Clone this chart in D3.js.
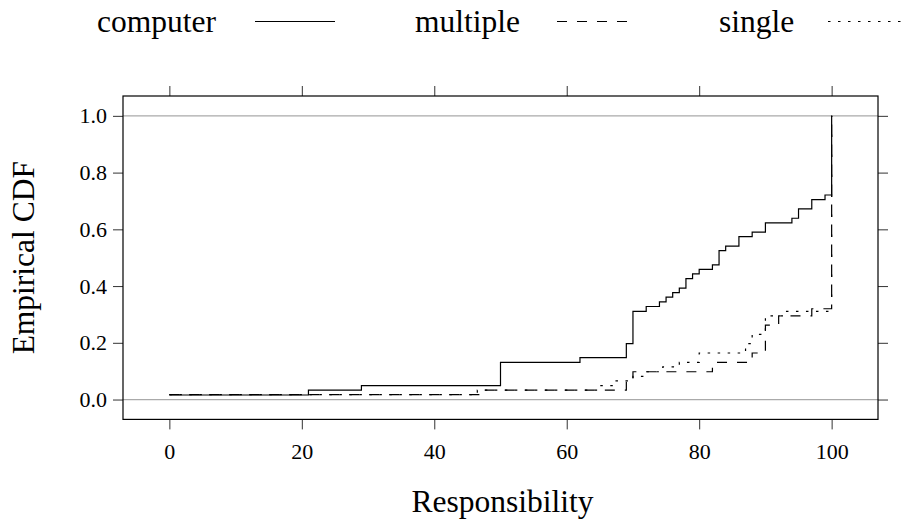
<!DOCTYPE html>
<html>
<head>
<meta charset="utf-8">
<script src="https://cdnjs.cloudflare.com/ajax/libs/d3/7.8.5/d3.min.js"></script>
<style>
html, body { margin: 0; padding: 0; background: #fff; }
svg { display: block; }
text { font-family: "Liberation Serif", "DejaVu Serif", serif; fill: #000; }
</style>
</head>
<body>
<svg id="chart" width="904" height="531"></svg>
<script>
// ---- data (step locations and ECDF levels) ----
const seriesNames = ["computer", "multiple", "single"];

const computerX = [0, 21, 29, 50, 62, 69, 70, 72, 74, 75, 76, 77, 78, 79, 80, 82, 83, 84, 86, 88, 90, 94, 95, 97, 99, 100];
const computerY = [0.016, 0.033, 0.049, 0.131, 0.148, 0.197, 0.311, 0.328, 0.344, 0.361, 0.377, 0.393, 0.426, 0.443, 0.459, 0.475, 0.525, 0.541, 0.574, 0.590, 0.623, 0.639, 0.672, 0.705, 0.721, 1.0];

const multipleX = [0, 47, 69, 70, 82, 88, 90, 92, 97, 100];
const multipleY = [0.017, 0.033, 0.066, 0.098, 0.131, 0.164, 0.262, 0.295, 0.320, 1.0];

const singleX = [0, 46.5, 64.5, 67, 70, 72, 74.5, 77, 80, 87, 88, 90, 93, 100];
const singleY = [0.017, 0.033, 0.049, 0.066, 0.082, 0.098, 0.115, 0.131, 0.164, 0.197, 0.230, 0.295, 0.311, 1.0];

const xTicks = [0, 20, 40, 60, 80, 100];
const yTicks = [0, 0.2, 0.4, 0.6, 0.8, 1.0];
const xLabel = "Responsibility";
const yLabel = "Empirical CDF";

// ---- layout ----
const svg = d3.select("#chart");
const panel = { left: 123, right: 878, top: 96, bottom: 419.4 };

const x = d3.scaleLinear().domain([-7, 107]).range([panel.left, panel.right]);
const y = d3.scaleLinear().domain([-0.07, 1.07]).range([panel.bottom, panel.top]);

const series = [
  { name: "computer", xs: computerX, ys: computerY, dash: null },
  { name: "multiple", xs: multipleX, ys: multipleY, dash: "10,10" },
  { name: "single", xs: singleX, ys: singleY, dash: "2.5,7.5" }
];

// reference lines at 0 and 1
svg.append("g").selectAll("line").data([0, 1]).join("line")
  .attr("x1", panel.left).attr("x2", panel.right)
  .attr("y1", d => y(d)).attr("y2", d => y(d))
  .attr("stroke", "#aaaaaa").attr("stroke-width", 1.3);

// step lines
const line = d3.line()
  .x(d => x(d[0])).y(d => y(d[1]))
  .curve(d3.curveStepAfter);

svg.append("g").selectAll("path").data(series).join("path")
  .attr("d", s => line(s.xs.map((v, i) => [v, s.ys[i]])))
  .attr("fill", "none")
  .attr("stroke", "#000")
  .attr("stroke-width", 1.2)
  .attr("stroke-dasharray", s => s.dash);

// axes with ticks on all four sides (lattice style)
const tickLen = 10;
const fmtY = d3.format(".1f");

svg.append("g").attr("transform", `translate(0,${panel.bottom})`)
  .call(d3.axisBottom(x).tickValues(xTicks).tickSize(tickLen).tickPadding(14).tickFormat(d3.format("d")))
  .call(g => g.select(".domain").remove());
svg.append("g").attr("transform", `translate(0,${panel.top})`)
  .call(d3.axisTop(x).tickValues(xTicks).tickSize(tickLen).tickFormat(""))
  .call(g => g.select(".domain").remove());
svg.append("g").attr("transform", `translate(${panel.left},0)`)
  .call(d3.axisLeft(y).tickValues(yTicks).tickSize(tickLen).tickPadding(6).tickFormat(fmtY))
  .call(g => g.select(".domain").remove());
svg.append("g").attr("transform", `translate(${panel.right},0)`)
  .call(d3.axisRight(y).tickValues(yTicks).tickSize(tickLen).tickFormat(""))
  .call(g => g.select(".domain").remove());

svg.selectAll(".tick line").attr("stroke", "#333").attr("stroke-width", 1);
svg.selectAll(".tick text")
  .style("font-family", '"Liberation Serif", serif')
  .style("font-size", "22px").attr("fill", "#000");

// panel border
svg.append("rect")
  .attr("x", panel.left).attr("y", panel.top)
  .attr("width", panel.right - panel.left).attr("height", panel.bottom - panel.top)
  .attr("fill", "none").attr("stroke", "#000").attr("stroke-width", 1.2);

// axis titles
svg.append("text")
  .attr("x", (panel.left + panel.right) / 2 + 2).attr("y", 512)
  .attr("text-anchor", "middle").style("font-size", "31.5px")
  .text(xLabel);
svg.append("text")
  .attr("transform", `translate(34,${(panel.top + panel.bottom) / 2}) rotate(-90)`)
  .attr("text-anchor", "middle").style("font-size", "31.5px")
  .text(yLabel);

// legend
const legendPos = [
  { tx: 97, lx1: 255, lx2: 335 },
  { tx: 415, lx1: 557, lx2: 631 },
  { tx: 719, lx1: 828, lx2: 904 }
];
const lg = svg.append("g");
series.forEach((s, i) => {
  const p = legendPos[i];
  lg.append("text").attr("x", p.tx).attr("y", 32)
    .style("font-size", "31.5px").text(s.name);
  lg.append("line").attr("x1", p.lx1).attr("x2", p.lx2)
    .attr("y1", 21.5).attr("y2", 21.5)
    .attr("stroke", "#000").attr("stroke-width", 1.2)
    .attr("stroke-dasharray", s.dash);
});
</script>
</body>
</html>
